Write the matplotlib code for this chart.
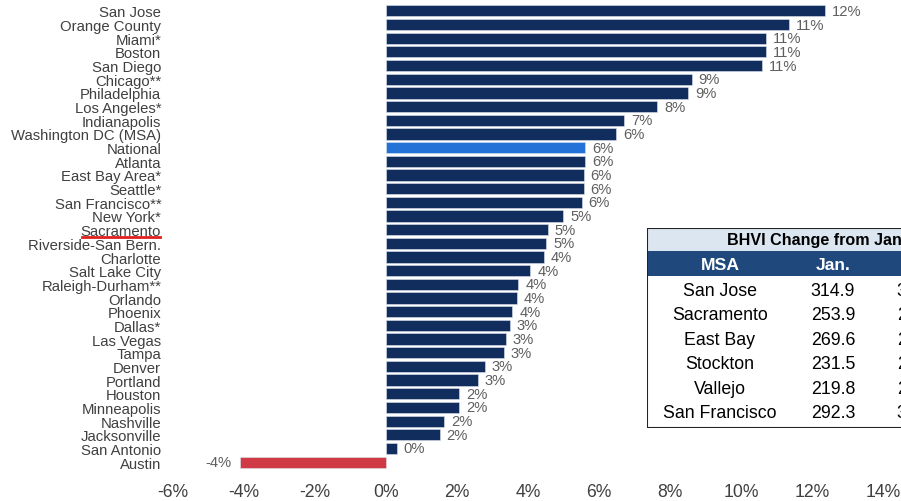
import matplotlib.pyplot as plt
from matplotlib.patches import Rectangle
from matplotlib.lines import Line2D

plt.rcParams['font.family'] = ['Liberation Sans', 'DejaVu Sans']

# year-over-year change by metro area, in percent
metros = ["San Jose", "Orange County", "Miami*", "Boston", "San Diego", "Chicago**",
          "Philadelphia", "Los Angeles*", "Indianapolis", "Washington DC (MSA)", "National",
          "Atlanta", "East Bay Area*", "Seattle*", "San Francisco**", "New York*",
          "Sacramento", "Riverside-San Bern.", "Charlotte", "Salt Lake City",
          "Raleigh-Durham**", "Orlando", "Phoenix", "Dallas*", "Las Vegas", "Tampa",
          "Denver", "Portland", "Houston", "Minneapolis", "Nashville", "Jacksonville",
          "San Antonio", "Austin"]
change = [12.37, 11.36, 10.70, 10.70, 10.58, 8.61, 8.52, 7.64, 6.71, 6.48, 5.61,
          5.61, 5.57, 5.57, 5.51, 4.99, 4.55, 4.52, 4.45, 4.07, 3.73, 3.68, 3.56,
          3.48, 3.37, 3.31, 2.79, 2.58, 2.07, 2.07, 1.64, 1.51, 0.30, -4.11]
xticks = [-6, -4, -2, 0, 2, 4, 6, 8, 10, 12, 14]

# BHVI table for Northern California metros
tbl_title = "BHVI Change from Jan. to Feb."
tbl_cols = ["MSA", "Jan.", "Feb."]
tbl_msa = ["San Jose", "Sacramento", "East Bay", "Stockton", "Vallejo", "San Francisco"]
tbl_jan = [314.9, 253.9, 269.6, 231.5, 219.8, 292.3]
tbl_feb = [318.4, 256.2, 272.1, 233.6, 221.7, 300.8]

navy = "#112D5E"
colors = []
for name, v in zip(metros, change):
    if name == "National":
        colors.append("#2272D8")
    elif v < 0:
        colors.append("#D03A44")
    else:
        colors.append(navy)

fig = plt.figure(figsize=(9.01, 5.02), dpi=100)
ax = fig.add_axes([173 / 901, 32 / 502, 710 / 901, 465 / 502])

y = list(range(len(metros)))
ax.barh(y, change, height=0.82, color=colors, edgecolor="#DDE3EE", linewidth=0.4)
ax.set_ylim(len(metros) - 0.5, -0.5)
ax.set_xlim(-6, 14)
ax.set_yticks(y)
ax.set_yticklabels(metros, fontsize=10.7, color="#404040")
ax.set_xticks(xticks)
ax.set_xticklabels([f"{t}%" for t in xticks], fontsize=12.7, color="#404040")
ax.tick_params(axis="both", length=0)
ax.tick_params(axis="x", pad=10)
ax.tick_params(axis="y", pad=8.5)
for s in ax.spines.values():
    s.set_visible(False)

for yi, v in zip(y, change):
    if v >= 0:
        ax.annotate(f"{v:.0f}%", (v, yi), xytext=(5, 0), textcoords="offset points",
                    ha="left", va="center", fontsize=10.6, color="#5f5f5f")
    else:
        ax.annotate(f"{v:.0f}%", (v, yi), xytext=(-6, 0), textcoords="offset points",
                    ha="right", va="center", fontsize=10.6, color="#5f5f5f")

# red underline below the Sacramento label
fig.canvas.draw()
lbl = ax.get_yticklabels()[metros.index("Sacramento")]
bb = lbl.get_window_extent()
x0, y0 = fig.transFigure.inverted().transform((bb.x0, bb.y0))
x1, _ = fig.transFigure.inverted().transform((bb.x1, bb.y0))
fig.add_artist(Line2D([x0 + 0.001, x1 - 0.001], [y0 + 0.002, y0 + 0.002],
                      transform=fig.transFigure, color="#E0201E", lw=2))

# table panel, running off the right side
tx = fig.add_axes([647 / 901, 1 - 429 / 502, 410 / 901, 200 / 502])
tx.set_xlim(0, 410)
tx.set_ylim(200, 0)
tx.axis("off")
tx.add_patch(Rectangle((0, 0), 410, 200, facecolor="white", edgecolor="none"))
tx.add_patch(Rectangle((0, 0), 410, 23, facecolor="#DCE6F1", edgecolor="none"))
tx.add_patch(Rectangle((0, 23), 410, 25, facecolor="#1F497D", edgecolor="none"))
tx.add_patch(Rectangle((0, 0), 410, 200, facecolor="none", edgecolor="#222222", lw=1.5))
tx.text(198, 12, tbl_title, ha="center", va="center", fontsize=11.6,
        fontweight="bold", color="black")
col_x = [73, 186, 272]
for cx, c in zip(col_x, tbl_cols):
    tx.text(cx, 36, c, ha="center", va="center", fontsize=12.6, fontweight="bold",
            color="white")
for i in range(len(tbl_msa)):
    ry = 62 + i * 24.6
    row = [tbl_msa[i], f"{tbl_jan[i]:.1f}", f"{tbl_feb[i]:.1f}"]
    for cx, val in zip(col_x, row):
        tx.text(cx, ry, val, ha="center", va="center", fontsize=12.8, color="black")

fig.savefig("out.png", dpi=100)
